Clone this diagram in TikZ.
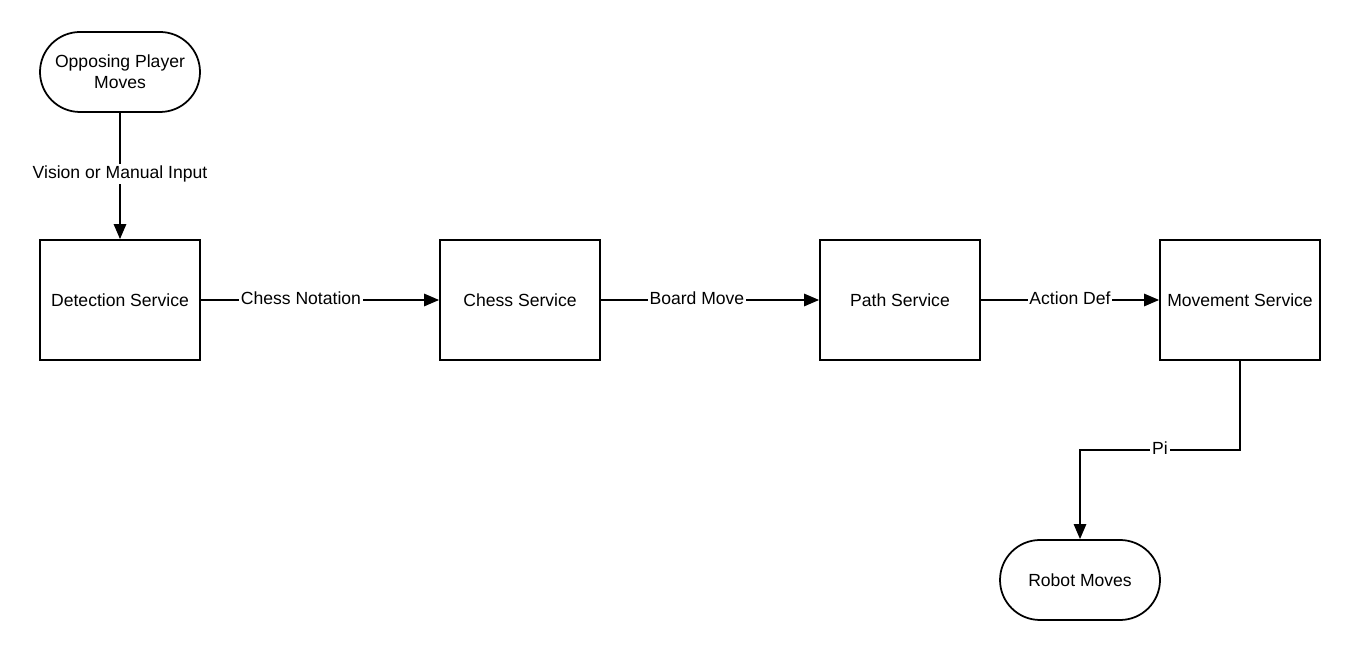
\documentclass[tikz,border=0pt]{standalone}
\usepackage{fontspec}
\setmainfont{Liberation Sans}
\usepackage{tikz}
\usetikzlibrary{arrows.meta,positioning}

\tikzset{
 service/.style={draw,line width=1pt,minimum width=3.2cm,minimum height=2.4cm,font=\fontsize{10}{12}\selectfont},
 terminal/.style={draw,line width=1pt,rounded corners=0.8cm,minimum width=3.2cm,minimum height=1.6cm,align=center,font=\fontsize{10}{12}\selectfont},
 flow/.style={line width=1pt,-{Triangle[length=8.5pt,width=7pt]}},
 lbl/.style={fill=white,inner sep=1pt,yshift=1pt,font=\fontsize{10}{12}\selectfont}
}

\begin{document}
\begin{tikzpicture}[line cap=butt,line join=miter]
 \useasboundingbox (0,0) rectangle (27.2,13.2);
 % nodes
 \node[terminal] (opp) at (2.4,11.76) {Opposing Player\\Moves};
 \node[service] (det) at (2.4,7.2) {Detection Service};
 \node[service] (chess) at (10.4,7.2) {Chess Service};
 \node[service] (path) at (18,7.2) {Path Service};
 \node[service] (mov) at (24.8,7.2) {Movement Service};
 \node[terminal] (robot) at (21.6,1.6) {Robot Moves};
 % connectors
 \draw[flow] (opp) -- node[lbl]{Vision or Manual Input} (det);
 \draw[flow] (det) -- node[lbl,pos=0.42]{Chess Notation} (chess);
 \draw[flow] (chess) -- node[lbl,pos=0.44]{Board Move} (path);
 \draw[flow] (path) -- node[lbl]{Action Def} (mov);
 \draw[flow] (mov.south) -- ++(0,-1.78) coordinate (bend) -| node[lbl,pos=0.25]{Pi} (robot.north);
\end{tikzpicture}
\end{document}
